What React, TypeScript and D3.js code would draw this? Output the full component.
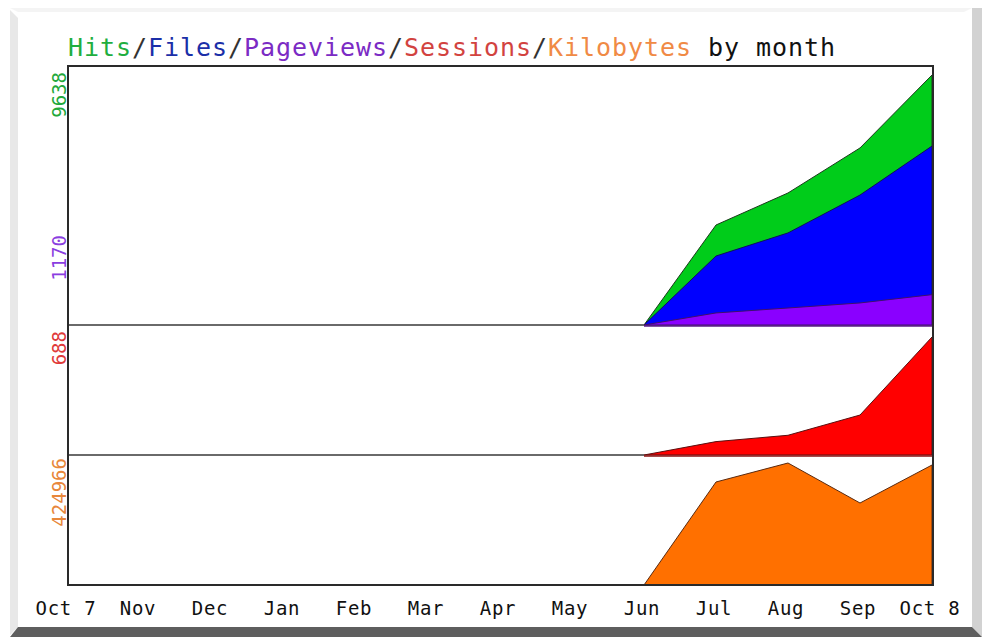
import React from 'react';
import * as d3 from 'd3';

// months shown on the x axis
const months = ['Oct 7', 'Nov', 'Dec', 'Jan', 'Feb', 'Mar', 'Apr', 'May', 'Jun', 'Jul', 'Aug', 'Sep', 'Oct 8'];

// series
const hits = [0, 0, 0, 0, 0, 0, 0, 0, 0, 3855, 5090, 6825, 9638];
const files = [0, 0, 0, 0, 0, 0, 0, 0, 0, 2660, 3550, 5010, 6900];
const pageviews = [0, 0, 0, 0, 0, 0, 0, 0, 0, 465, 655, 850, 1170];
const sessions = [0, 0, 0, 0, 0, 0, 0, 0, 0, 78, 115, 233, 688];
const kbytes = [0, 0, 0, 0, 0, 0, 0, 0, 0, 358800, 424966, 285600, 418000];

// max labels on the left
const maxLabels = [
  { text: '9638', color: '#22a83a', y: 72 },
  { text: '1170', color: '#8a3ee0', y: 235 },
  { text: '688', color: '#e03a3a', y: 331 },
  { text: '424966', color: '#e8873a', y: 458 },
];

const titleParts = [
  { text: 'Hits', color: '#1fae3f' },
  { text: '/', color: '#333' },
  { text: 'Files', color: '#1b2fa8' },
  { text: '/', color: '#333' },
  { text: 'Pageviews', color: '#7b2bc4' },
  { text: '/', color: '#333' },
  { text: 'Sessions', color: '#d2433f' },
  { text: '/', color: '#333' },
  { text: 'Kilobytes', color: '#f08a45' },
  { text: ' by month', color: '#111' },
];

const W = 982;
const H = 637;
const left = 68;
const right = 932;
const top = 66;
const div1 = 325;
const div2 = 455;
const bottom = 585;
const firstActive = 8; // Jun, where the areas begin
const mono = '"DejaVu Sans Mono", "Liberation Mono", monospace';

export default function App() {
  const x = d3.scaleLinear().domain([0, months.length - 1]).range([left, right]);
  const yHits = d3.scaleLinear().domain([0, d3.max(hits) as number]).range([div1, 75]);
  const ySess = d3.scaleLinear().domain([0, d3.max(sessions) as number]).range([div2, 337]);
  const yKb = d3.scaleLinear().domain([0, d3.max(kbytes) as number]).range([bottom, 463]);

  const area = (vals: number[], y: d3.ScaleLinear<number, number>) =>
    d3.area<number>()
      .x((_, i) => x(i + firstActive))
      .y0(y(0))
      .y1(d => y(d))(vals.slice(firstActive)) || '';

  return (
    <svg width={W} height={H} style={{ position: 'absolute', left: 0, top: 0, background: '#fff' }}>
      {/* bevel frame */}
      <polygon points="10,10 18,18 18,627 10,635" fill="#e8e8e8" />
      <polygon points="10,8 972,8 964,12 18,12" fill="#f4f4f4" />
      <polygon points="972,8 982,8 982,637 972,627" fill="#d2d2d2" />
      <polygon points="10,637 982,637 972,627 18,627" fill="#5e5e5e" />

      {/* title */}
      <text x={left} y={56} fontFamily={mono} fontSize={25} textLength={767} lengthAdjust="spacing">
        {titleParts.map((p, i) => (
          <tspan key={i} fill={p.color}>{p.text}</tspan>
        ))}
      </text>

      {/* areas */}
      <path d={area(hits, yHits)} fill="#00cc1a" stroke="#1a3a1a" strokeWidth={1} />
      <path d={area(files, yHits)} fill="#0000ff" stroke="#10105a" strokeWidth={1} />
      <path d={area(pageviews, yHits)} fill="#8a00ff" stroke="#40106a" strokeWidth={1} />
      <path d={area(sessions, ySess)} fill="#ff0000" stroke="#5a1010" strokeWidth={1} />
      <path d={area(kbytes, yKb)} fill="#ff7000" stroke="#5a2a10" strokeWidth={1} />

      {/* dividers */}
      <line x1={left} x2={x(firstActive)} y1={div1} y2={div1} stroke="#6a6a6a" strokeWidth={2} />
      <line x1={x(firstActive)} x2={right} y1={div1 + 1} y2={div1 + 1} stroke="#5a1a8a" strokeWidth={1.5} />
      <line x1={left} x2={x(firstActive)} y1={div2} y2={div2} stroke="#6a6a6a" strokeWidth={2} />
      <line x1={x(firstActive)} x2={right} y1={div2 + 1} y2={div2 + 1} stroke="#8a1010" strokeWidth={1.5} />

      {/* plot frame */}
      <rect x={left} y={top} width={right - left + 1} height={bottom - top} fill="none" stroke="#2a2a2a" strokeWidth={2} />

      {/* max labels */}
      {maxLabels.map(l => (
        <text key={l.text} transform={`translate(66,${l.y}) rotate(-90)`} textAnchor="end"
          fontFamily={mono} fontSize={19} fill={l.color}>{l.text}</text>
      ))}

      {/* month labels */}
      {months.map((m, i) => (
        <text key={m} x={x(i) - 2} y={615} textAnchor="middle" fontFamily={mono} fontSize={19}
          letterSpacing={0.8} fill="#111">{m}</text>
      ))}
    </svg>
  );
}
